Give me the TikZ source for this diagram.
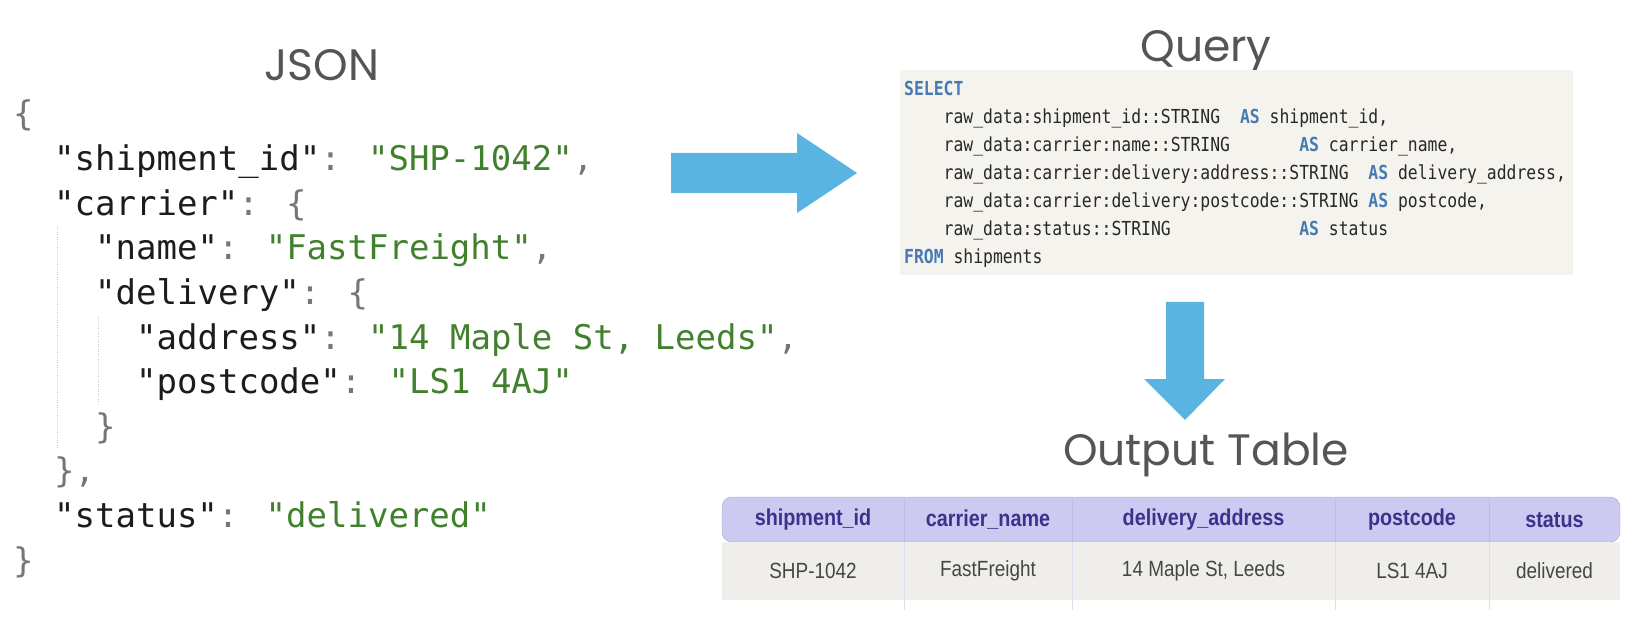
\documentclass[tikz,border=0pt]{standalone}
\usepackage{fontspec}
\newfontfamily\jsonfont{DejaVu Sans Mono}
\newfontfamily\sqlfont{DejaVu Sans Mono}[FakeStretch=0.85]
\newfontfamily\titlefont{Poppins}
\newfontfamily\tabfont{Liberation Sans}[FakeStretch=0.86]
\definecolor{jkey}{RGB}{28,28,28}
\definecolor{jstr}{RGB}{65,128,45}
\definecolor{jpun}{RGB}{118,118,118}
\definecolor{guide}{RGB}{200,200,200}
\definecolor{arrowblue}{RGB}{90,180,226}
\definecolor{codebg}{RGB}{245,243,237}
\definecolor{sqlkw}{RGB}{70,122,180}
\definecolor{sqltxt}{RGB}{40,40,40}
\definecolor{hdrfill}{RGB}{205,202,242}
\definecolor{hdrline}{RGB}{165,160,225}
\definecolor{hdrtext}{RGB}{60,50,140}
\definecolor{rowfill}{RGB}{239,238,234}
\definecolor{rowtext}{RGB}{70,70,70}
\definecolor{sepline}{RGB}{222,221,236}
\definecolor{titlegray}{RGB}{85,85,85}
\newcommand\jk[1]{\textcolor{jkey}{"#1"}}
\newcommand\js[1]{\textcolor{jstr}{"#1"}}
\newcommand\jp[1]{\textcolor{jpun}{#1}}
\newcommand\kw[1]{\textcolor{sqlkw}{\bfseries #1}}
\begin{document}
\begin{tikzpicture}[x=1pt,y=-1pt,
    title/.style={anchor=base,inner sep=0,text=titlegray,font=\titlefont\fontsize{44}{50}\selectfont},
    jline/.style={anchor=base west,inner sep=0,font=\jsonfont\fontsize{34}{40}\selectfont},
    sqline/.style={anchor=base west,inner sep=0,text=sqltxt,font=\sqlfont\fontsize{19.3}{22}\selectfont},
    bigarrow/.style={fill=arrowblue},
    hdr/.style={inner sep=0,text=hdrtext,font=\tabfont\bfseries\fontsize{23}{26}\selectfont},
    cell/.style={inner sep=0,text=rowtext,font=\tabfont\fontsize{22}{26}\selectfont}]
\useasboundingbox (0,0) rectangle (1644,628);
% json
\node[title] (jsontitle) at (322,81) {JSON};
\node[jline] (jopen) at (13,126.0) {\jp{\{}};
\node[jline] (jship) at (54,170.6) {\jk{shipment\_id}\jp{:} \js{SHP-1042}\jp{,}};
\node[jline] (jcarrier) at (54,215.2) {\jk{carrier}\jp{: \{}};
\node[jline] (jname) at (95,259.8) {\jk{name}\jp{:} \js{FastFreight}\jp{,}};
\node[jline] (jdelivery) at (95,304.4) {\jk{delivery}\jp{: \{}};
\node[jline] (jaddress) at (136,349.0) {\jk{address}\jp{:} \js{14 Maple St, Leeds}\jp{,}};
\node[jline] (jpostcode) at (136,393.6) {\jk{postcode}\jp{:} \js{LS1 4AJ}};
\node[jline] (jdelclose) at (95,438.2) {\jp{\}}};
\node[jline] (jcarclose) at (54,482.8) {\jp{\},}};
\node[jline] (jstatus) at (54,527.4) {\jk{status}\jp{:} \js{delivered}};
\node[jline] (jclose) at (13,572.0) {\jp{\}}};
\draw[guide,line width=0.8pt,dash pattern=on 1pt off 1.5pt] (57,227) -- (57,449);
\draw[guide,line width=0.8pt,dash pattern=on 1pt off 1.5pt] (98,316) -- (98,405);
% arrows
\fill[bigarrow] (671,153) -- (797,153) -- (797,133) -- (857,173) -- (797,213) -- (797,193) -- (671,193) -- cycle;
\fill[bigarrow] (1166,302) -- (1204,302) -- (1204,379) -- (1225,379) -- (1185,420) -- (1144,379) -- (1166,379) -- cycle;
% query
\node[title] (querytitle) at (1206,62) {Query};
\node[fill=codebg,inner sep=0,minimum width=673,minimum height=205,anchor=north west] (querybox) at (900,70) {};
\node[sqline] (sq1) at (904,96) {\kw{SELECT}};
\node[sqline] (sq2) at (904,124) {~~~~raw\_data:shipment\_id::STRING~~\kw{AS} shipment\_id,};
\node[sqline] (sq3) at (904,152) {~~~~raw\_data:carrier:name::STRING~~~~~~~\kw{AS} carrier\_name,};
\node[sqline] (sq4) at (904,180) {~~~~raw\_data:carrier:delivery:address::STRING~~\kw{AS} delivery\_address,};
\node[sqline] (sq5) at (904,208) {~~~~raw\_data:carrier:delivery:postcode::STRING~\kw{AS} postcode,};
\node[sqline] (sq6) at (904,236) {~~~~raw\_data:status::STRING~~~~~~~~~~~~~\kw{AS} status};
\node[sqline] (sq7) at (904,264) {\kw{FROM} shipments};
% output table
\node[title] (tabletitle) at (1206,465) {Output Table};
\draw[hdrline,fill=hdrfill,rounded corners=10] (722,497) rectangle (1620,542);
\fill[rowfill] (722,542) rectangle (1620,600);
\foreach \x in {904,1072,1335,1489} {
  \draw[hdrline!70] (\x,498) -- (\x,542);
  \draw[sepline] (\x,542) -- (\x,610);
}
\foreach \x/\h/\v [count=\i] in {813/shipment\_id/SHP-1042,988/carrier\_name/FastFreight,
    1203.5/delivery\_address/{14 Maple St, Leeds},1412/postcode/LS1 4AJ,1554.5/status/delivered} {
  \node[hdr] (h\i) at (\x,520) {\h};
  \node[cell] (c\i) at (\x,571) {\v};
}
\end{tikzpicture}
\end{document}
